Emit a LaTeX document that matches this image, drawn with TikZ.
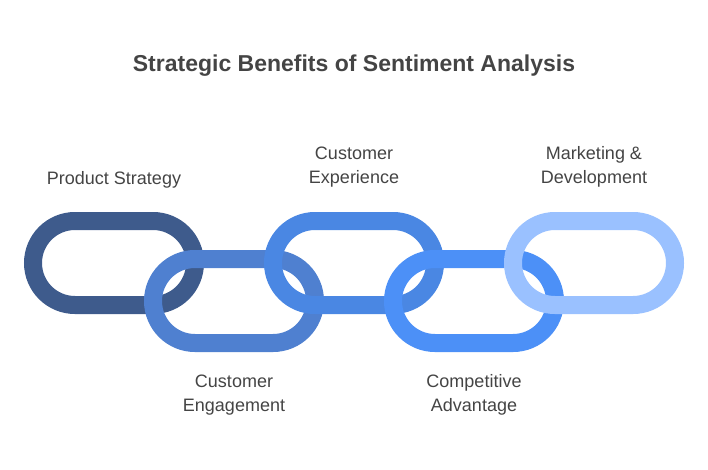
\documentclass[tikz,border=0pt]{standalone}
\usepackage{fontspec}
\setmainfont{Liberation Sans}
\usetikzlibrary{positioning}
\definecolor{linkA}{HTML}{3E5B8C}
\definecolor{linkB}{HTML}{4F80D0}
\definecolor{linkC}{HTML}{4A87E3}
\definecolor{linkD}{HTML}{4C90F7}
\definecolor{linkE}{HTML}{9AC1FF}
\definecolor{txt}{HTML}{444444}
\tikzset{
  chainlink/.style={draw=#1, rectangle, rounded corners=42pt, line width=18pt,
    minimum width=162pt, minimum height=84pt, inner sep=0pt},
  lbl/.style={text=txt, align=center, font=\fontsize{18}{24}\selectfont}
}
\begin{document}
\begin{tikzpicture}[x=1pt, y=-1pt]
  \useasboundingbox (0,0) rectangle (708,469);
  \node[text=txt, font=\bfseries\fontsize{23}{26}\selectfont] (title) at (354,66) {Strategic Benefits of Sentiment Analysis};

  \node[chainlink=linkA] (l1) at (114,263) {};
  \node[chainlink=linkB] (l2) at (234,301) {};
  \node[chainlink=linkC] (l3) at (354,263) {};
  \node[chainlink=linkD] (l4) at (474,301) {};
  \node[chainlink=linkE] (l5) at (594,263) {};

  \node[lbl] (t1) at (114,180) {Product Strategy};
  \node[lbl] (t2) at (234,395) {Customer\\Engagement};
  \node[lbl] (t3) at (354,167) {Customer\\Experience};
  \node[lbl] (t4) at (474,395) {Competitive\\Advantage};
  \node[lbl] (t5) at (594,167) {Marketing \&\\Development};
\end{tikzpicture}
\end{document}
